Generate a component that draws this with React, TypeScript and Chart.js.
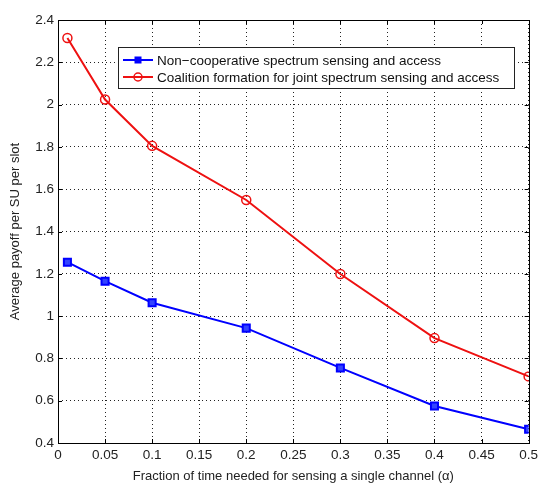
import React, { useEffect, useRef } from "react";
import { Chart, registerables } from "chart.js";

Chart.register(...registerables);

const xValues = [0.01, 0.05, 0.1, 0.2, 0.3, 0.4, 0.5];
const nonCoop = [1.255, 1.165, 1.063, 0.943, 0.755, 0.575, 0.465];
const coalition = [2.315, 2.024, 1.805, 1.549, 1.199, 0.896, 0.715];
const seriesNames = [
  "Non\u2212cooperative spectrum sensing and access",
  "Coalition formation for joint spectrum sensing and access",
];
const xTitle = "Fraction of time needed for sensing a single channel (\u03b1)";
const yTitle = "Average payoff per SU per slot";

const FONT = "'Liberation Sans', Arial, Helvetica, sans-serif";
const BLUE = "#0000ff";
const RED = "#ee1111";

const framePlugin = {
  id: "frame",
  afterDatasetsDraw(chart: any) {
    const { ctx, chartArea: a, scales } = chart;
    ctx.save();
    ctx.strokeStyle = "#000";
    ctx.lineWidth = 1;
    ctx.setLineDash([]);
    ctx.strokeRect(Math.round(a.left) + 0.5, Math.round(a.top) + 0.5, Math.round(a.right - a.left), Math.round(a.bottom - a.top));
    const tl = 4;
    ctx.beginPath();
    scales.x.ticks.forEach((t: any) => {
      const px = Math.round(scales.x.getPixelForValue(t.value)) + 0.5;
      ctx.moveTo(px, a.bottom);
      ctx.lineTo(px, a.bottom - tl);
      ctx.moveTo(px, a.top);
      ctx.lineTo(px, a.top + tl);
    });
    scales.y.ticks.forEach((t: any) => {
      const py = Math.round(scales.y.getPixelForValue(t.value)) + 0.5;
      ctx.moveTo(a.left, py);
      ctx.lineTo(a.left + tl, py);
      ctx.moveTo(a.right, py);
      ctx.lineTo(a.right - tl, py);
    });
    ctx.stroke();

    // legend
    const lx = a.left + 60;
    const ly = a.top + 27;
    const lw = 396;
    const lh = 41;
    ctx.fillStyle = "#fff";
    ctx.fillRect(lx, ly, lw, lh);
    ctx.strokeStyle = "#222";
    ctx.strokeRect(lx + 0.5, ly + 0.5, lw, lh);
    const rows = [
      { color: BLUE, style: "rect", y: ly + 13 },
      { color: RED, style: "circle", y: ly + 30 },
    ];
    ctx.font = `13.5px ${FONT}`;
    ctx.textBaseline = "middle";
    rows.forEach((r, i) => {
      ctx.strokeStyle = r.color;
      ctx.lineWidth = 2;
      ctx.beginPath();
      ctx.moveTo(lx + 5, r.y);
      ctx.lineTo(lx + 35, r.y);
      ctx.stroke();
      const cx = lx + 20;
      if (r.style === "rect") {
        ctx.fillStyle = r.color;
        ctx.fillRect(cx - 3.5, r.y - 3.5, 7, 7);
      } else {
        ctx.lineWidth = 1.5;
        ctx.beginPath();
        ctx.arc(cx, r.y, 4, 0, Math.PI * 2);
        ctx.stroke();
      }
      ctx.fillStyle = "#111";
      ctx.fillText(seriesNames[i], lx + 39, r.y + 1);
    });
    ctx.restore();
  },
};

export default function App() {
  const ref = useRef<HTMLCanvasElement>(null);
  useEffect(() => {
    document.body.style.margin = "0";
    const toPts = (ys: number[]) => xValues.map((x, i) => ({ x, y: ys[i] }));
    const chart = new Chart(ref.current as HTMLCanvasElement, {
      type: "line",
      data: {
        datasets: [
          {
            label: seriesNames[0],
            data: toPts(nonCoop),
            borderColor: BLUE,
            backgroundColor: BLUE,
            borderWidth: 2,
            pointStyle: "rect",
            pointRadius: 5,
            pointBorderWidth: 2,
            pointBorderColor: BLUE,
            pointBackgroundColor: "#3344ff",
            tension: 0,
          },
          {
            label: seriesNames[1],
            data: toPts(coalition),
            borderColor: RED,
            backgroundColor: "transparent",
            borderWidth: 2,
            pointStyle: "circle",
            pointRadius: 4.5,
            pointBorderWidth: 1.5,
            pointBorderColor: RED,
            pointBackgroundColor: "transparent",
            tension: 0,
          },
        ],
      },
      options: {
        responsive: false,
        animation: false,
        layout: { padding: { top: 20, right: 11, left: 0, bottom: 0 } },
        plugins: { legend: { display: false }, tooltip: { enabled: false } },
        scales: {
          x: {
            type: "linear",
            min: 0,
            max: 0.5,
            afterFit: (s: any) => { s.height = 43; },
            ticks: {
              stepSize: 0.05,
              color: "#222",
              font: { family: FONT, size: 13.5 },
              padding: 4,
              maxRotation: 0,
              callback: (v: any) => Number(Number(v).toFixed(2)).toString(),
            },
            grid: { color: "#222", lineWidth: 1, drawTicks: false },
            border: { display: false, dash: [1, 3] },
            title: {
              display: true,
              text: xTitle,
              color: "#222",
              font: { family: FONT, size: 13 },
              padding: { top: 0, bottom: 2 },
            },
          },
          y: {
            type: "linear",
            min: 0.4,
            max: 2.4,
            afterFit: (s: any) => { s.width = 58; },
            ticks: {
              stepSize: 0.2,
              color: "#222",
              font: { family: FONT, size: 13.5 },
              padding: 4,
              callback: (v: any) => Number(Number(v).toFixed(1)).toString(),
            },
            grid: { color: "#222", lineWidth: 1, drawTicks: false },
            border: { display: false, dash: [1, 3] },
            title: {
              display: true,
              text: yTitle,
              color: "#222",
              font: { family: FONT, size: 13 },
              padding: { top: 8, bottom: 0 },
            },
          },
        },
      },
      plugins: [framePlugin],
    });
    return () => chart.destroy();
  }, []);
  return <canvas ref={ref} width={542} height={486} style={{ display: "block" }} />;
}
